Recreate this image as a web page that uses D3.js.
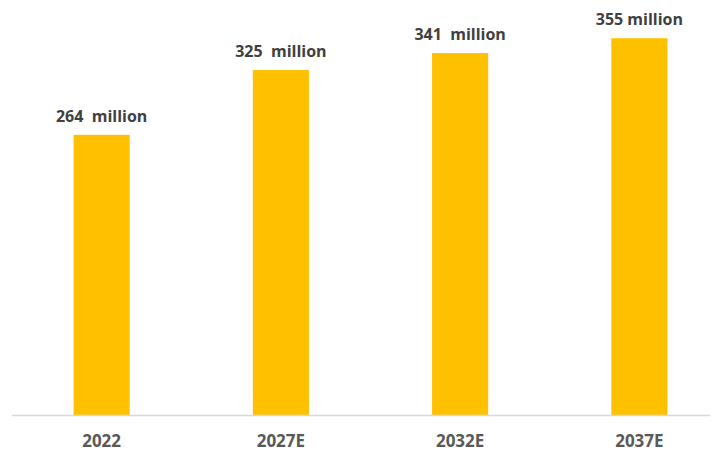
<!DOCTYPE html>
<html>
<head>
<meta charset="utf-8">
<script src="https://cdn.jsdelivr.net/npm/d3@7"></script>
<style>
  body { margin: 0; background: #fff; }
  svg { display: block; }
</style>
</head>
<body>
<svg id="chart" width="716" height="453"></svg>
<script>
const categories = ["2022", "2027E", "2032E", "2037E"];
const values = [264, 325, 341, 355];
const valueLabels = ["264  million", "325  million", "341  million", "355 million"];

const svg = d3.select("#chart");
const baseline = 415;

const x = d3.scaleBand()
  .domain(categories)
  .range([12, 729])
  .paddingInner(0.687)
  .paddingOuter(0.3435);

const y = d3.scaleLinear()
  .domain([0, 391])
  .range([baseline, 0]);

// Bars
svg.selectAll(".bar")
  .data(values)
  .enter()
  .append("rect")
  .attr("class", "bar")
  .attr("x", (d, i) => x(categories[i]))
  .attr("y", d => y(d))
  .attr("width", x.bandwidth())
  .attr("height", d => baseline - y(d))
  .attr("fill", "#ffc000");

// Axis line
svg.append("line")
  .attr("x1", 12)
  .attr("x2", 710)
  .attr("y1", baseline + 0.5)
  .attr("y2", baseline + 0.5)
  .attr("stroke", "#d9d9d9")
  .attr("stroke-width", 1.5);

// Category labels
svg.selectAll(".cat")
  .data(categories)
  .enter()
  .append("text")
  .attr("class", "cat")
  .attr("x", d => x(d) + x.bandwidth() / 2)
  .attr("y", 447)
  .attr("text-anchor", "middle")
  .attr("font-family", "'Open Sans', sans-serif")
  .attr("font-weight", "bold")
  .attr("font-size", 17)
  .attr("fill", "#595959")
  .text(d => d);

// Value labels
svg.selectAll(".val")
  .data(values)
  .enter()
  .append("text")
  .attr("class", "val")
  .attr("x", (d, i) => x(categories[i]) + x.bandwidth() / 2)
  .attr("y", d => y(d) - 13)
  .attr("text-anchor", "middle")
  .attr("font-family", "'Open Sans', sans-serif")
  .attr("font-weight", "bold")
  .attr("font-size", 16)
  .attr("fill", "#404040")
  .attr("xml:space", "preserve")
  .style("white-space", "pre")
  .text((d, i) => valueLabels[i]);
</script>
</body>
</html>
